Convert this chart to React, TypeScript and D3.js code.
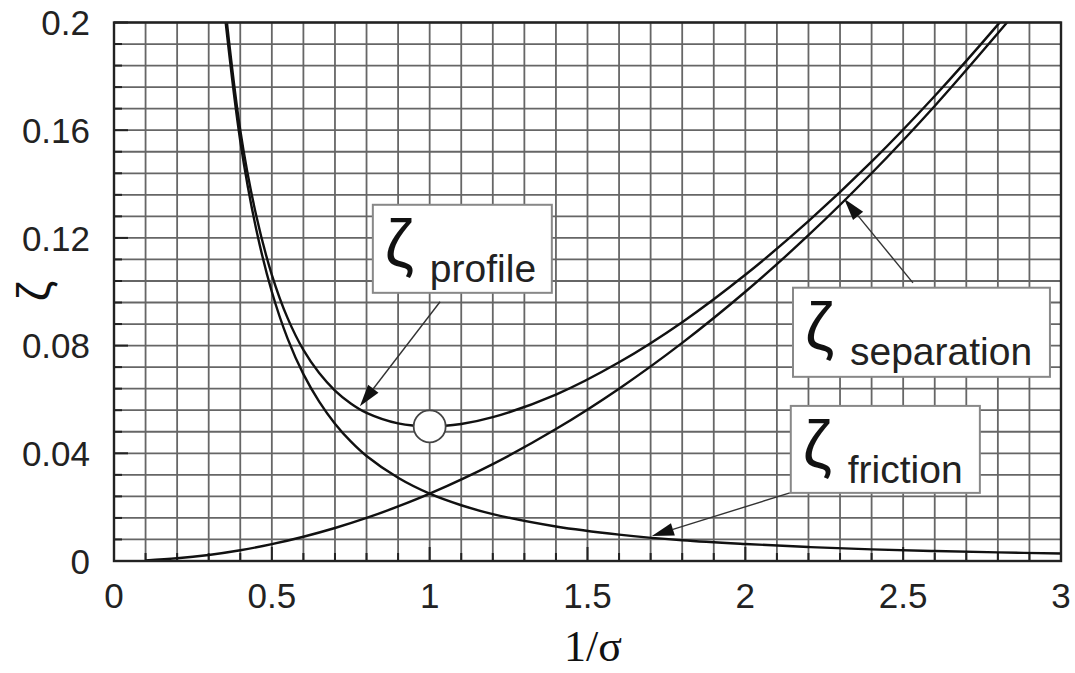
import React from "react";
import * as d3 from "d3";

// Loss coefficient components versus inverse solidity 1/σ
const frictionX = [0.35, 0.4, 0.45, 0.5, 0.55, 0.6, 0.65, 0.7, 0.75, 0.8, 0.9, 1.0, 1.1, 1.2, 1.4, 1.6, 1.8, 2.0, 2.2, 2.4, 2.6, 2.8, 3.0];
const frictionY = [0.204, 0.156, 0.1235, 0.1, 0.0826, 0.0694, 0.0592, 0.051, 0.0444, 0.039, 0.0309, 0.025, 0.0207, 0.0174, 0.0128, 0.0098, 0.0077, 0.0063, 0.0052, 0.0043, 0.0037, 0.0032, 0.0028];

const separationX = [0.1, 0.2, 0.3, 0.4, 0.5, 0.6, 0.7, 0.8, 0.9, 1.0, 1.2, 1.4, 1.6, 1.8, 2.0, 2.2, 2.4, 2.6, 2.8, 2.9];
const separationY = [0.00025, 0.001, 0.00225, 0.004, 0.00625, 0.009, 0.01225, 0.016, 0.02025, 0.025, 0.036, 0.049, 0.064, 0.081, 0.1, 0.121, 0.144, 0.169, 0.196, 0.21];

const profileX = [0.34, 0.4, 0.45, 0.5, 0.55, 0.6, 0.65, 0.7, 0.75, 0.8, 0.9, 1.0, 1.1, 1.2, 1.4, 1.6, 1.8, 2.0, 2.2, 2.4, 2.6, 2.8, 2.9];
const profileY = [0.2192, 0.16, 0.1286, 0.1063, 0.0902, 0.0784, 0.0698, 0.0633, 0.0585, 0.055, 0.0511, 0.05, 0.0509, 0.0534, 0.0618, 0.0738, 0.0887, 0.1063, 0.1262, 0.1483, 0.1727, 0.1992, 0.2133];

const optimumPoint = { x: 1.0, y: 0.05 };

const xTicks = [0, 0.5, 1, 1.5, 2, 2.5, 3];
const xTickLabels = ["0", "0.5", "1", "1.5", "2", "2.5", "3"];
const yTicks = [0, 0.04, 0.08, 0.12, 0.16, 0.2];
const yTickLabels = ["0", "0.04", "0.08", "0.12", "0.16", "0.2"];

// Callout boxes and leader arrows (data coordinates)
const labelNames = ["profile", "separation", "friction"];
const labelBoxes = [
  { x0: 0.82, x1: 1.387, y0: 0.1323, y1: 0.0996 },
  { x0: 2.151, x1: 2.965, y0: 0.1015, y1: 0.0684 },
  { x0: 2.144, x1: 2.743, y0: 0.0576, y1: 0.0253 },
];
const arrows = [
  { fx: 1.033, fy: 0.0963, tx: 0.779, ty: 0.0575 },
  { fx: 2.531, fy: 0.1033, tx: 2.313, ty: 0.1345 },
  { fx: 2.141, fy: 0.0253, tx: 1.704, ty: 0.0093 },
];

const W = 1075;
const H = 673;
const left = 114;
const right = 1061;
const top = 22.5;
const bottom = 561;

const x = d3.scaleLinear().domain([0, 3]).range([left, right]);
const y = d3.scaleLinear().domain([0, 0.2]).range([bottom, top]);

const line = d3
  .line<[number, number]>()
  .x((d) => x(d[0]))
  .y((d) => y(d[1]))
  .curve(d3.curveCatmullRom.alpha(0.5));

const zip = (xs: number[], ys: number[]) => xs.map((v, i) => [v, ys[i]] as [number, number]);

const sans = "'Liberation Sans', Arial, sans-serif";
const serif = "'Liberation Serif', 'Times New Roman', serif";

function Arrow({ a }: { a: (typeof arrows)[number] }) {
  const x1 = x(a.fx), y1 = y(a.fy), x2 = x(a.tx), y2 = y(a.ty);
  const ang = Math.atan2(y2 - y1, x2 - x1);
  const len = 22, half = 6.5;
  const bx = x2 - len * Math.cos(ang);
  const by = y2 - len * Math.sin(ang);
  const px = -Math.sin(ang) * half, py = Math.cos(ang) * half;
  return (
    <g>
      <line x1={x1} y1={y1} x2={bx} y2={by} stroke="#333" strokeWidth={1.4} />
      <polygon points={`${x2},${y2} ${bx + px},${by + py} ${bx - px},${by - py}`} fill="#111" />
    </g>
  );
}

export default function App() {
  const vGrid = d3.range(31).map((i) => i * 0.1);
  const hGrid = d3.range(26).map((i) => i * 0.008);
  return (
    <svg width={W} height={H} style={{ position: "absolute", left: 0, top: 0, background: "#fff" }}>
      <defs>
        <clipPath id="plotClip">
          <rect x={left} y={top} width={right - left} height={bottom - top} />
        </clipPath>
      </defs>
      <rect width={W} height={H} fill="#fff" />
      {/* grid */}
      <g stroke="#666" strokeWidth={1.8}>
        {vGrid.map((v, i) => (
          <line key={"v" + i} x1={x(v)} x2={x(v)} y1={top} y2={bottom} />
        ))}
        {hGrid.map((v, i) => (
          <line key={"h" + i} x1={left} x2={right} y1={y(v)} y2={y(v)} />
        ))}
      </g>
      {/* inner tick marks */}
      <g stroke="#222" strokeWidth={2}>
        {hGrid.map((v, i) => (
          <line key={"ty" + i} x1={left} x2={left + (i % 5 === 0 ? 14 : 8)} y1={y(v)} y2={y(v)} />
        ))}
        {vGrid.map((v, i) => (
          <line key={"tx" + i} x1={x(v)} x2={x(v)} y1={bottom} y2={bottom - (i % 5 === 0 ? 14 : 8)} />
        ))}
      </g>
      {/* curves */}
      <g clipPath="url(#plotClip)" fill="none" stroke="#111" strokeWidth={2.4}>
        <path d={line(zip(frictionX, frictionY)) || ""} />
        <path d={line(zip(separationX, separationY)) || ""} />
        <path d={line(zip(profileX, profileY)) || ""} />
      </g>
      <circle cx={x(optimumPoint.x)} cy={y(optimumPoint.y)} r={16} fill="#fff" stroke="#444" strokeWidth={1.8} />
      {/* frame */}
      <rect x={left} y={top} width={right - left} height={bottom - top} fill="none" stroke="#222" strokeWidth={2.4} />
      {/* callouts */}
      {arrows.map((a, i) => (
        <Arrow key={"a" + i} a={a} />
      ))}
      {labelBoxes.map((b, i) => {
        const bx = x(b.x0), by = y(b.y0), bw = x(b.x1) - x(b.x0), bh = y(b.y1) - y(b.y0);
        return (
          <g key={"b" + i}>
            <rect x={bx} y={by} width={bw} height={bh} fill="#fff" stroke="#888" strokeWidth={2} />
            <text x={bx + 12} y={by + 61} fontFamily={sans} fontSize={66} fill="#111">
              ζ
            </text>
            <text x={bx + 57} y={by + 77} fontFamily={sans} fontSize={39} fill="#222">
              {labelNames[i]}
            </text>
          </g>
        );
      })}
      {/* axis tick labels */}
      <g fontFamily={sans} fontSize={35} fill="#222">
        {yTicks.map((v, i) => (
          <text key={"yl" + i} x={90} y={y(v)} dy="0.36em" textAnchor="end">
            {yTickLabels[i]}
          </text>
        ))}
        {xTicks.map((v, i) => (
          <text key={"xl" + i} x={x(v)} y={608} textAnchor="middle">
            {xTickLabels[i]}
          </text>
        ))}
      </g>
      {/* axis titles */}
      <text x={593} y={661} fontFamily={serif} fontSize={44} textAnchor="middle" fill="#111">
        1/σ
      </text>
      <text
        transform="translate(50,291) rotate(-90)"
        fontFamily={sans}
        fontSize={46}
        textAnchor="middle"
        fill="#111"
      >
        ζ
      </text>
    </svg>
  );
}
